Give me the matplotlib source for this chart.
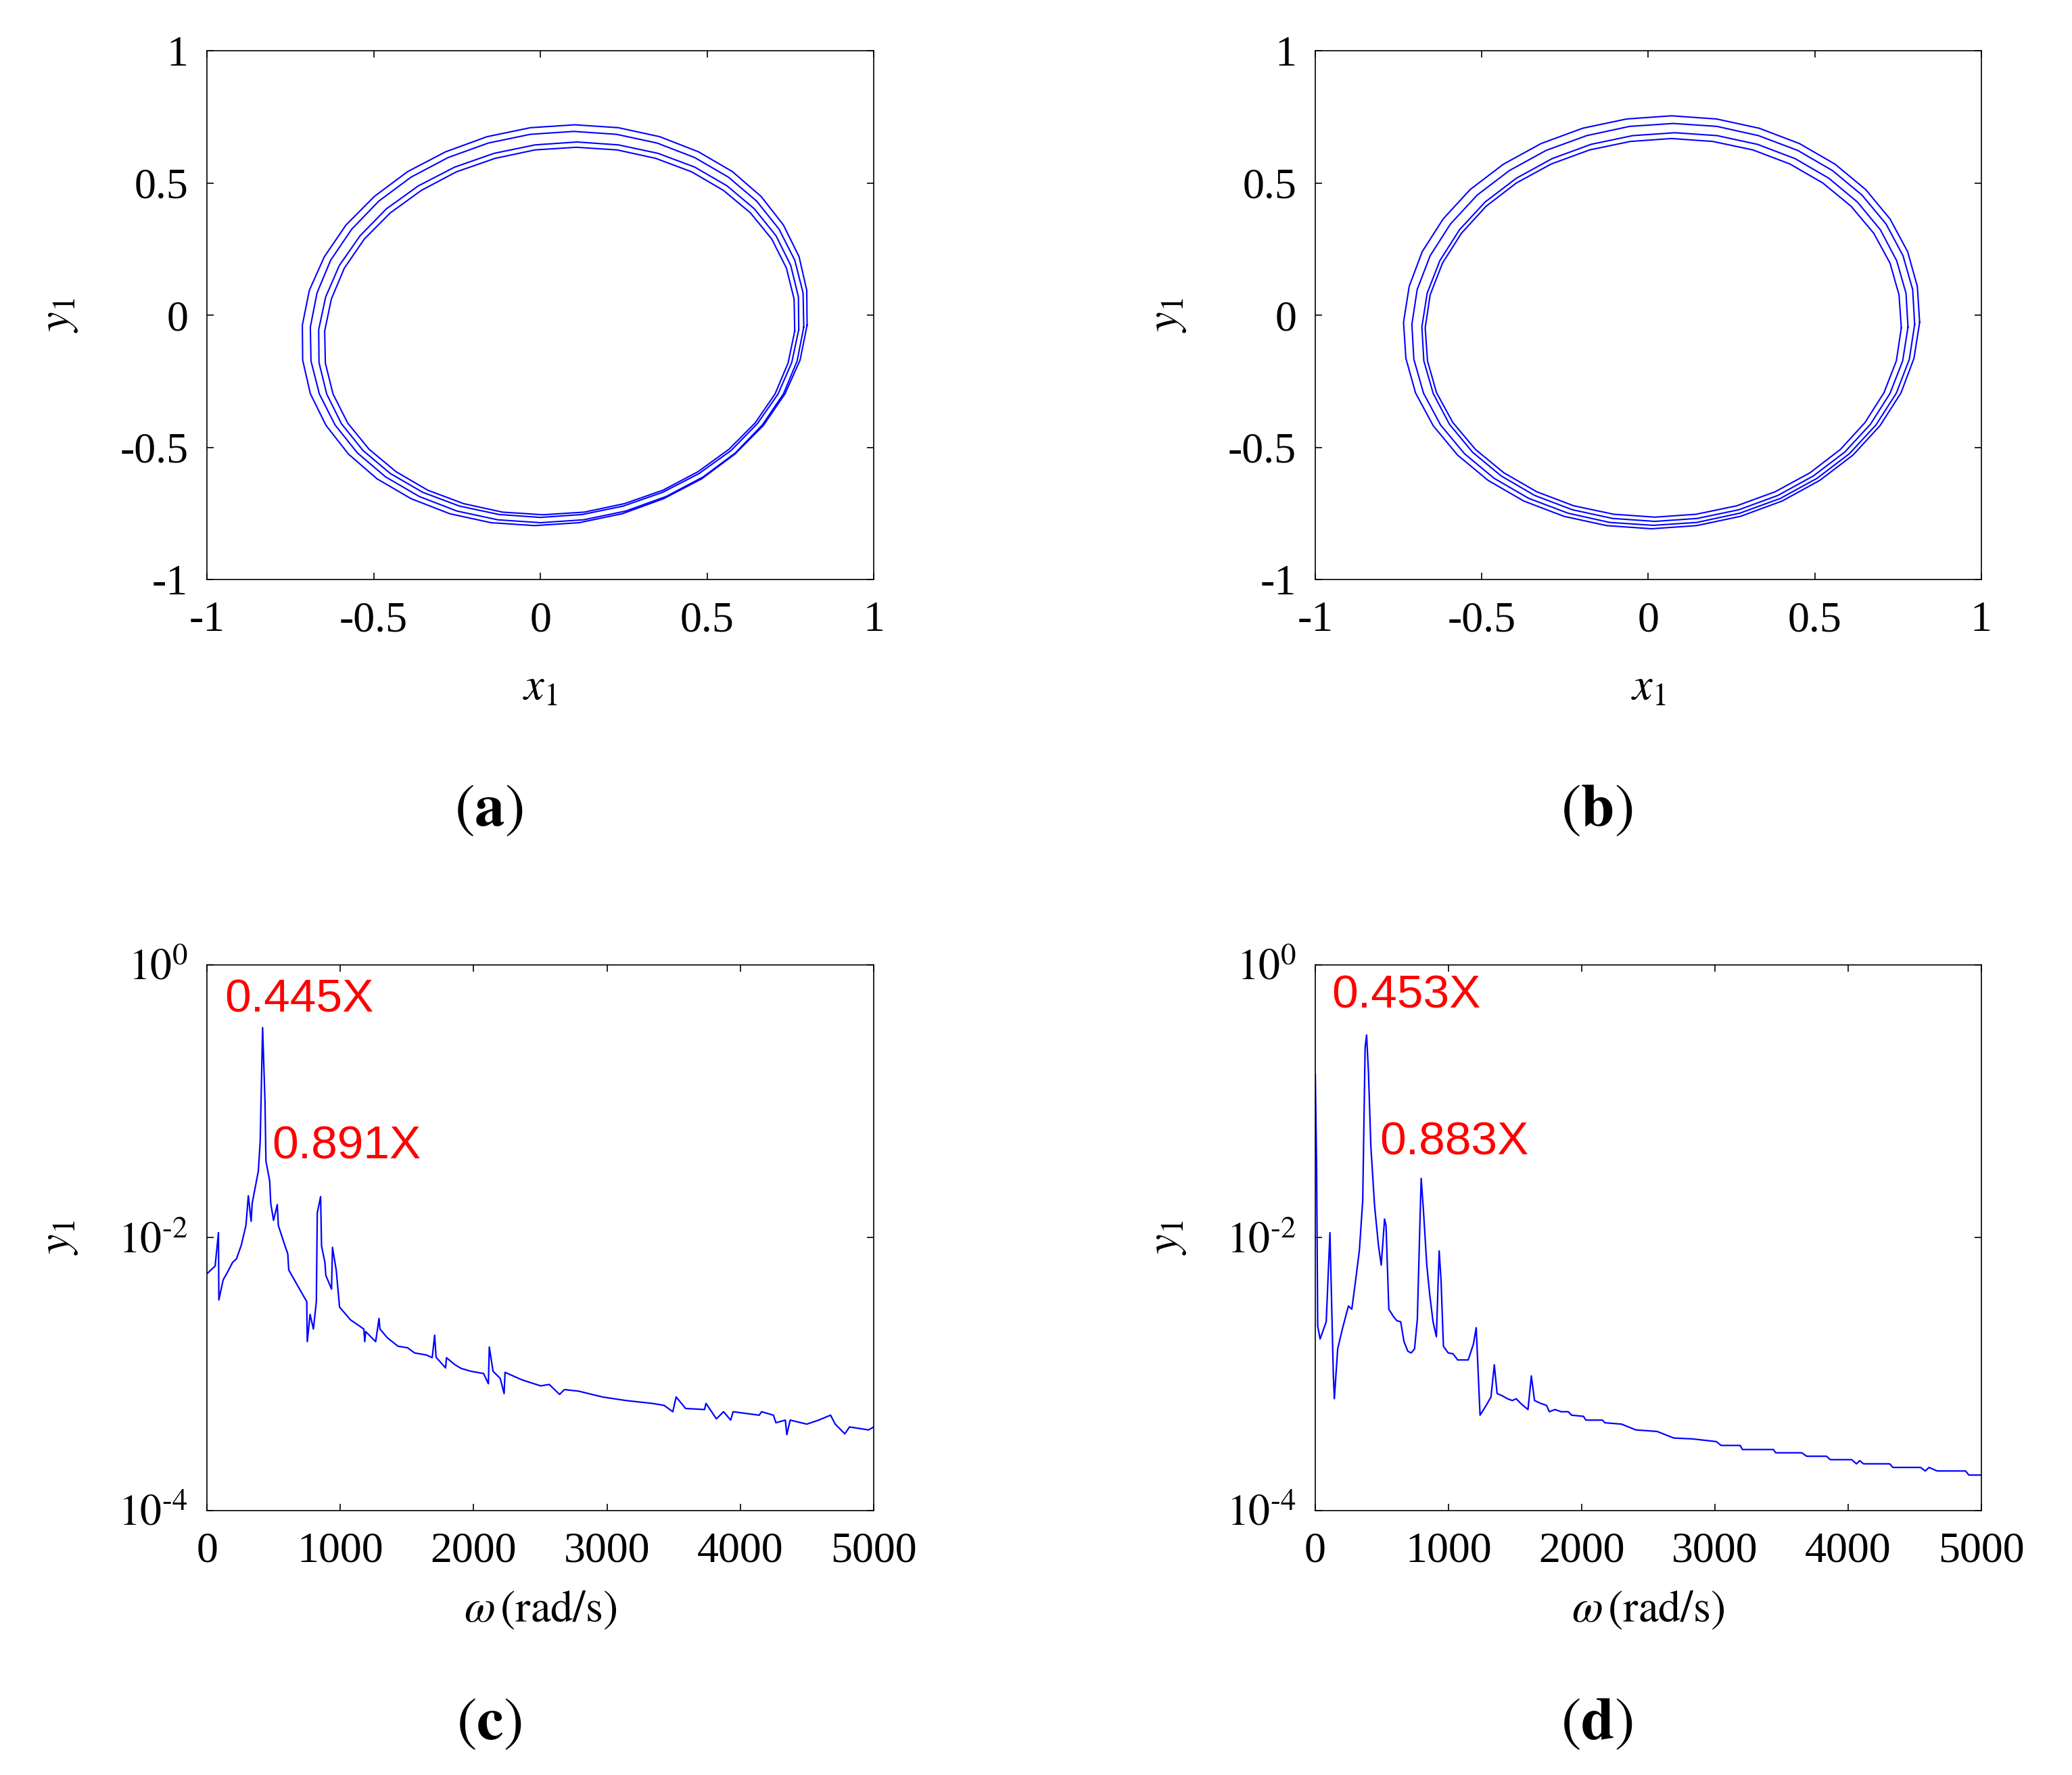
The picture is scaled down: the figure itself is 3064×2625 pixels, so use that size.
import numpy as np
import matplotlib
matplotlib.use("Agg")
import matplotlib.pyplot as plt

# ---- orbit (a): four passes, x1 / y1 read every 10 deg round the loop ----
a1_x = [0.800, 0.799, 0.776, 0.729, 0.662, 0.576, 0.474, 0.358, 0.234, 0.103, -0.030, -0.160,
        -0.284, -0.398, -0.498, -0.583, -0.648, -0.693, -0.714, -0.713, -0.690, -0.643, -0.576, -0.490,
        -0.388, -0.272, -0.148, -0.017, 0.116, 0.246, 0.370, 0.484, 0.584, 0.669, 0.734, 0.779]
a1_y = [-0.038, 0.094, 0.221, 0.341, 0.449, 0.543, 0.618, 0.675, 0.709, 0.720, 0.709, 0.675,
        0.618, 0.543, 0.449, 0.341, 0.221, 0.094, -0.038, -0.170, -0.297, -0.417, -0.525, -0.619,
        -0.694, -0.751, -0.785, -0.796, -0.785, -0.751, -0.694, -0.619, -0.525, -0.417, -0.297, -0.170]
a2_x = [0.790, 0.788, 0.763, 0.716, 0.649, 0.564, 0.463, 0.350, 0.228, 0.100, -0.030, -0.156,
        -0.277, -0.388, -0.485, -0.566, -0.629, -0.670, -0.690, -0.688, -0.663, -0.616, -0.549, -0.464,
        -0.363, -0.250, -0.128, 0.000, 0.130, 0.256, 0.377, 0.488, 0.585, 0.666, 0.729, 0.770]
a2_y = [-0.045, 0.084, 0.208, 0.325, 0.431, 0.522, 0.596, 0.651, 0.684, 0.695, 0.684, 0.651,
        0.596, 0.522, 0.431, 0.325, 0.208, 0.084, -0.045, -0.174, -0.298, -0.415, -0.521, -0.612,
        -0.686, -0.741, -0.774, -0.785, -0.774, -0.741, -0.686, -0.612, -0.521, -0.415, -0.298, -0.174]
a3_x = [0.775, 0.774, 0.751, 0.707, 0.642, 0.560, 0.463, 0.353, 0.234, 0.110, -0.016, -0.139,
        -0.257, -0.366, -0.462, -0.541, -0.603, -0.644, -0.665, -0.664, -0.641, -0.597, -0.532, -0.450,
        -0.353, -0.243, -0.124, 0.000, 0.126, 0.249, 0.367, 0.476, 0.572, 0.651, 0.713, 0.754]
a3_y = [-0.055, 0.069, 0.188, 0.300, 0.402, 0.489, 0.560, 0.612, 0.644, 0.655, 0.644, 0.612,
        0.560, 0.489, 0.402, 0.300, 0.188, 0.069, -0.055, -0.179, -0.298, -0.410, -0.512, -0.599,
        -0.670, -0.722, -0.754, -0.765, -0.754, -0.722, -0.670, -0.599, -0.512, -0.410, -0.298, -0.179]
a4_x = [0.763, 0.761, 0.738, 0.694, 0.630, 0.549, 0.454, 0.346, 0.230, 0.108, -0.016, -0.136,
        -0.252, -0.357, -0.450, -0.528, -0.588, -0.627, -0.647, -0.645, -0.622, -0.578, -0.514, -0.433,
        -0.338, -0.230, -0.114, 0.008, 0.132, 0.252, 0.368, 0.473, 0.566, 0.644, 0.704, 0.743]
a4_y = [-0.060, 0.061, 0.178, 0.288, 0.387, 0.472, 0.542, 0.593, 0.625, 0.635, 0.625, 0.593,
        0.542, 0.472, 0.387, 0.288, 0.178, 0.061, -0.060, -0.181, -0.298, -0.408, -0.507, -0.592,
        -0.662, -0.713, -0.745, -0.755, -0.745, -0.713, -0.662, -0.592, -0.507, -0.408, -0.298, -0.181]

# ---- orbit (b) ----
b1_x = [0.815, 0.808, 0.779, 0.726, 0.653, 0.561, 0.454, 0.333, 0.205, 0.070, -0.065, -0.197,
        -0.322, -0.435, -0.535, -0.616, -0.679, -0.718, -0.735, -0.728, -0.699, -0.646, -0.573, -0.481,
        -0.374, -0.253, -0.125, 0.010, 0.145, 0.277, 0.402, 0.515, 0.615, 0.696, 0.759, 0.798]
b1_y = [-0.027, 0.109, 0.240, 0.364, 0.475, 0.571, 0.649, 0.707, 0.742, 0.754, 0.742, 0.707,
        0.649, 0.571, 0.475, 0.364, 0.240, 0.109, -0.027, -0.163, -0.294, -0.418, -0.529, -0.625,
        -0.703, -0.761, -0.796, -0.808, -0.796, -0.761, -0.703, -0.625, -0.529, -0.418, -0.294, -0.163]
b2_x = [0.800, 0.794, 0.765, 0.714, 0.642, 0.553, 0.449, 0.331, 0.206, 0.075, -0.056, -0.185,
        -0.307, -0.417, -0.514, -0.594, -0.655, -0.694, -0.710, -0.704, -0.675, -0.624, -0.552, -0.463,
        -0.359, -0.241, -0.116, 0.015, 0.146, 0.275, 0.397, 0.507, 0.604, 0.684, 0.745, 0.784]
b2_y = [-0.035, 0.097, 0.225, 0.345, 0.454, 0.547, 0.623, 0.679, 0.714, 0.725, 0.714, 0.679,
        0.623, 0.547, 0.454, 0.345, 0.225, 0.097, -0.035, -0.167, -0.295, -0.415, -0.524, -0.617,
        -0.693, -0.749, -0.784, -0.795, -0.784, -0.749, -0.693, -0.617, -0.524, -0.415, -0.295, -0.167]
b3_x = [0.780, 0.774, 0.746, 0.697, 0.628, 0.542, 0.441, 0.328, 0.207, 0.080, -0.047, -0.172,
        -0.289, -0.396, -0.490, -0.567, -0.626, -0.664, -0.680, -0.674, -0.646, -0.597, -0.528, -0.442,
        -0.341, -0.228, -0.107, 0.020, 0.147, 0.272, 0.389, 0.496, 0.590, 0.667, 0.726, 0.764]
b3_y = [-0.045, 0.083, 0.206, 0.323, 0.428, 0.518, 0.592, 0.646, 0.679, 0.690, 0.679, 0.646,
        0.592, 0.518, 0.428, 0.323, 0.206, 0.083, -0.045, -0.173, -0.296, -0.413, -0.518, -0.608,
        -0.682, -0.736, -0.769, -0.780, -0.769, -0.736, -0.682, -0.608, -0.518, -0.413, -0.296, -0.173]
b4_x = [0.760, 0.753, 0.726, 0.677, 0.609, 0.524, 0.425, 0.314, 0.194, 0.070, -0.054, -0.176,
        -0.291, -0.396, -0.487, -0.561, -0.618, -0.655, -0.670, -0.663, -0.636, -0.587, -0.519, -0.434,
        -0.335, -0.224, -0.104, 0.020, 0.144, 0.266, 0.381, 0.486, 0.577, 0.651, 0.708, 0.745]
b4_y = [-0.048, 0.077, 0.197, 0.310, 0.412, 0.500, 0.572, 0.625, 0.657, 0.668, 0.657, 0.625,
        0.572, 0.500, 0.412, 0.310, 0.197, 0.077, -0.048, -0.173, -0.293, -0.406, -0.508, -0.596,
        -0.668, -0.721, -0.753, -0.764, -0.753, -0.721, -0.668, -0.596, -0.508, -0.406, -0.293, -0.173]

# ---- spectrum (c) ----
omega_c = [0, 61, 86, 89, 121, 150, 192, 221, 257, 292, 310, 331, 339, 385, 399, 417, 435, 442,
           470, 478, 499, 527, 535, 577, 606, 613, 666, 713, 748, 752, 773, 798, 820, 827, 852,
           859, 884, 891, 934, 941, 969, 994, 1076, 1130, 1176, 1183, 1190, 1265, 1290, 1297,
           1354, 1433, 1504, 1557, 1646, 1689, 1707, 1718, 1789, 1796, 1860, 1907, 1978, 2074,
           2110, 2117, 2145, 2199, 2228, 2235, 2359, 2502, 2566, 2644, 2680, 2787, 2965, 3143,
           3339, 3428, 3493, 3518, 3589, 3731, 3742, 3820, 3874, 3927, 3945, 4141, 4159, 4248,
           4266, 4337, 4348, 4373, 4498, 4587, 4676, 4711, 4783, 4818, 4961, 5000]
amp_c = [5.45e-3, 6.2e-3, 1.09e-2, 3.5e-3, 4.9e-3, 5.5e-3, 6.6e-3, 7.0e-3, 8.8e-3, 1.23e-2,
         2.03e-2, 1.32e-2, 1.79e-2, 3.08e-2, 5.1e-2, 0.347, 0.099, 3.65e-2, 2.61e-2, 1.79e-2,
         1.34e-2, 1.75e-2, 1.23e-2, 9.2e-3, 7.6e-3, 5.8e-3, 4.7e-3, 3.9e-3, 3.4e-3, 1.73e-3,
         2.74e-3, 2.14e-3, 3.4e-3, 1.52e-2, 2.0e-2, 8.7e-3, 6.6e-3, 5.3e-3, 4.2e-3, 8.5e-3,
         5.8e-3, 3.1e-3, 2.5e-3, 2.3e-3, 2.14e-3, 1.73e-3, 2.05e-3, 1.73e-3, 2.56e-3, 2.14e-3,
         1.84e-3, 1.60e-3, 1.56e-3, 1.43e-3, 1.38e-3, 1.32e-3, 1.93e-3, 1.33e-3, 1.11e-3, 1.32e-3,
         1.17e-3, 1.10e-3, 1.05e-3, 1.01e-3, 8.5e-4, 1.58e-3, 1.05e-3, 9.3e-4, 7.2e-4, 1.03e-3,
         9.1e-4, 8.2e-4, 8.4e-4, 7.1e-4, 7.7e-4, 7.5e-4, 6.8e-4, 6.4e-4, 6.1e-4, 5.9e-4,
         5.3e-4, 6.8e-4, 5.6e-4, 5.5e-4, 6.1e-4, 4.7e-4, 5.3e-4, 4.6e-4, 5.3e-4, 5.0e-4,
         5.3e-4, 5.0e-4, 4.4e-4, 4.6e-4, 3.6e-4, 4.6e-4, 4.3e-4, 4.6e-4, 5.0e-4, 4.3e-4,
         3.65e-4, 4.1e-4, 3.9e-4, 4.1e-4]

# ---- spectrum (d) ----
omega_d = [0, 10, 18, 36, 82, 110, 135, 143, 168, 203, 232, 249, 274, 303, 331, 356, 374, 385,
           399, 417, 445, 474, 495, 520, 531, 552, 588, 613, 641, 666, 695, 720, 745, 766, 784,
           795, 812, 837, 859, 884, 909, 930, 944, 962, 998, 1034, 1069, 1148, 1187, 1208, 1237,
           1283, 1319, 1344, 1365, 1408, 1443, 1479, 1508, 1550, 1597, 1622, 1646, 1693, 1736,
           1757, 1800, 1846, 1899, 1924, 2014, 2031, 2156, 2174, 2299, 2406, 2566, 2691, 2833,
           3011, 3047, 3190, 3207, 3439, 3457, 3653, 3689, 3838, 3867, 4027, 4063, 4088, 4116,
           4312, 4337, 4544, 4580, 4608, 4669, 4882, 4907, 5000]
amp_d = [0.158, 0.0316, 2.24e-3, 1.81e-3, 2.42e-3, 1.09e-2, 1.01e-3, 6.6e-4, 1.53e-3, 2.14e-3,
         2.74e-3, 3.16e-3, 2.99e-3, 4.9e-3, 8.1e-3, 1.87e-2, 0.248, 0.306, 0.164, 4.68e-2,
         1.72e-2, 8.8e-3, 6.3e-3, 1.37e-2, 1.23e-2, 2.99e-3, 2.63e-3, 2.46e-3, 2.42e-3, 1.73e-3,
         1.47e-3, 1.43e-3, 1.53e-3, 2.52e-3, 1.13e-2, 2.72e-2, 1.58e-2, 6.3e-3, 3.83e-3, 2.42e-3,
         1.88e-3, 8.0e-3, 4.9e-3, 1.60e-3, 1.43e-3, 1.41e-3, 1.27e-3, 1.27e-3, 1.66e-3, 2.19e-3,
         5.0e-4, 5.9e-4, 6.8e-4, 1.17e-3, 7.2e-4, 6.9e-4, 6.6e-4, 6.4e-4, 6.6e-4, 6.0e-4,
         5.5e-4, 9.7e-4, 6.4e-4, 6.1e-4, 5.9e-4, 5.3e-4, 5.5e-4, 5.3e-4, 5.3e-4, 5.0e-4,
         4.9e-4, 4.6e-4, 4.6e-4, 4.4e-4, 4.3e-4, 3.9e-4, 3.8e-4, 3.4e-4, 3.35e-4, 3.2e-4,
         3.0e-4, 3.0e-4, 2.8e-4, 2.8e-4, 2.65e-4, 2.65e-4, 2.5e-4, 2.5e-4, 2.36e-4, 2.36e-4,
         2.2e-4, 2.32e-4, 2.2e-4, 2.2e-4, 2.07e-4, 2.07e-4, 1.95e-4, 2.07e-4, 1.95e-4, 1.95e-4,
         1.82e-4, 1.82e-4]

orbit_ticks = [-1, -0.5, 0, 0.5, 1]
orbit_ticklabels = ["-1", "-0.5", "0", "0.5", "1"]
freq_ticks = [0, 1000, 2000, 3000, 4000, 5000]
amp_ticks = [1e-4, 1e-2, 1e0]
amp_ticklabels = [r"$10^{\text{-}4}$", r"$10^{\text{-}2}$", r"$10^{0}$"]

peaks_c = ["0.445X", "0.891X"]
peaks_d = ["0.453X", "0.883X"]

plt.rcParams["font.family"] = ["Liberation Serif", "DejaVu Serif"]
plt.rcParams["mathtext.fontset"] = "stix"

TICK_FS = 46
LABEL_FS = 48
BLUE = "#0000ff"


def style_axes(ax):
    for sp in ax.spines.values():
        sp.set_linewidth(1.2)
    ax.tick_params(which="both", direction="in", top=True, right=True,
                   length=7, width=1.2, labelsize=TICK_FS)
    ax.tick_params(axis="x", pad=23)
    ax.tick_params(axis="y", pad=20)
    ax.minorticks_off()


def draw_orbit(ax, loops):
    for lx, ly in loops:
        ax.plot(np.append(lx, lx[0]), np.append(ly, ly[0]), color=BLUE, lw=1.5)
    ax.set_xlim(-1, 1)
    ax.set_ylim(-1, 1)
    ax.set_xticks(orbit_ticks)
    ax.set_xticklabels(orbit_ticklabels)
    ax.set_yticks(orbit_ticks)
    ax.set_yticklabels(orbit_ticklabels)
    style_axes(ax)
    ax.set_xlabel(r"$x_1$", fontsize=LABEL_FS, va="center")
    ax.set_ylabel(r"$y_1$", fontsize=LABEL_FS, va="center")
    ax.xaxis.set_label_coords(0.5, -0.205)
    ax.yaxis.set_label_coords(-0.222, 0.5)


def draw_spectrum(ax, omega, amp, peaks, peak_pos):
    ax.plot(omega, amp, color=BLUE, lw=1.6)
    ax.set_yscale("log")
    ax.set_xlim(0, 5000)
    ax.set_ylim(1e-4, 1e0)
    ax.set_xticks(freq_ticks)
    ax.set_yticks(amp_ticks)
    ax.set_yticklabels(amp_ticklabels)
    style_axes(ax)
    ax.set_xlabel(r"$\omega\,(\mathrm{rad/s})$", fontsize=LABEL_FS, va="center")
    ax.set_ylabel(r"$y_1$", fontsize=LABEL_FS, va="center")
    ax.xaxis.set_label_coords(0.5, -0.182)
    ax.yaxis.set_label_coords(-0.222, 0.5)
    for txt, (px, py) in zip(peaks, peak_pos):
        ax.text(px, py, txt, color="red", fontsize=50, family="Liberation Sans",
                va="baseline", ha="left")


fig = plt.figure(figsize=(30.64, 26.25), dpi=100)
ax_a = fig.add_axes([0.0999, 0.6735, 0.3218, 0.2979])
ax_b = fig.add_axes([0.6348, 0.6735, 0.3214, 0.2979])
ax_c = fig.add_axes([0.0999, 0.1490, 0.3218, 0.3074])
ax_d = fig.add_axes([0.6348, 0.1490, 0.3214, 0.3074])

draw_orbit(ax_a, [(a1_x, a1_y), (a2_x, a2_y), (a3_x, a3_y), (a4_x, a4_y)])
draw_orbit(ax_b, [(b1_x, b1_y), (b2_x, b2_y), (b3_x, b3_y), (b4_x, b4_y)])
draw_spectrum(ax_c, omega_c, amp_c, peaks_c, [(132, 0.453), (488, 0.038)])
draw_spectrum(ax_d, omega_d, amp_d, peaks_d, [(125, 0.484), (481, 0.0406)])

# panel letters
for lab, x, y in [("a", 0.236, 0.543), ("b", 0.7706, 0.543),
                  ("c", 0.236, 0.0282), ("d", 0.7706, 0.0282)]:
    fig.text(x, y, r"$(\mathbf{%s})$" % lab, fontsize=64, ha="center", va="center")

fig.savefig("out.png", dpi=100)
